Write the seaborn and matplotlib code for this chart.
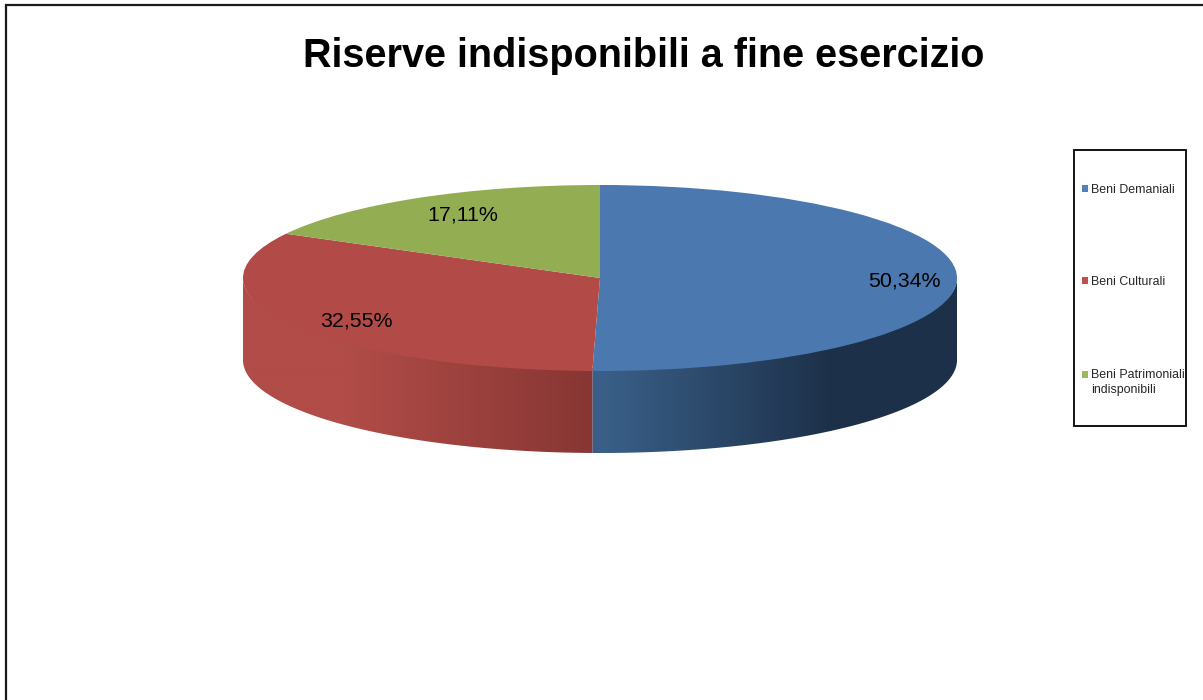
import numpy as np
import matplotlib
matplotlib.use("Agg")
import matplotlib.pyplot as plt
from matplotlib.patches import Patch, Rectangle, Polygon
from matplotlib.colors import to_rgb
import seaborn as sns

# data
categories = ["Beni Demaniali", "Beni Culturali", "Beni Patrimoniali\nindisponibili"]
values = [50.34, 32.55, 17.11]
title = "Riserve indisponibili a fine esercizio"

# style
top_colors = ["#4a78af", "#b24b47", "#93ad52"]
legend_colors = ["#4f81bd", "#c0504d", "#9bbb59"]
wall_outer = ["#1d3049", "#b14c48", "#93ad52"]
wall_inner = ["#3a6089", "#873633", "#93ad52"]
wall_hold = [0.35, 0.30, 0.0]   # share of the run kept at the outer colour

sns.set_theme(style="white")
plt.rcParams["font.family"] = ["Liberation Sans", "DejaVu Sans"]

W, H = 1203, 700
fig = plt.figure(figsize=(W / 100, H / 100), dpi=100, facecolor="white")

# pixel geometry of the pie
left, right, top, rim_bottom, depth = 243, 957, 185, 371, 82
ry = (rim_bottom - top) / 2
d = depth / ry
ax = fig.add_axes([left / W, 1 - (rim_bottom + depth) / H, (right - left) / W, (rim_bottom + depth - top) / H])
ax.patch.set_alpha(0)

# side wall, drawn from the values
shares = np.array(values) / sum(values)
edges = 90 - 360 * np.concatenate([[0], np.cumsum(shares)])
for i in range(len(values)):
    lo, hi = max(edges[i + 1], -180), min(edges[i], 0)
    if lo >= hi:
        continue
    ang = np.radians(np.linspace(hi, lo, 200))
    xs, ys = np.cos(ang), np.sin(ang)
    # the upper edge runs just inside the rim, so the top face covers it
    outline = np.column_stack([np.r_[xs, xs[::-1]], np.r_[ys * 0.97, ys[::-1] - d]])
    x_a, x_b = xs.min(), xs.max()
    grid = np.linspace(x_a, x_b, 400)
    f = np.abs(grid) - np.abs(grid).min()
    f = f / f.max()
    f = np.clip(f / (1 - wall_hold[i]), 0, 1)
    c_o, c_i = np.array(to_rgb(wall_outer[i])), np.array(to_rgb(wall_inner[i]))
    img = (c_i[None, :] + (c_o - c_i)[None, :] * f[:, None])[None, :, :]
    im = ax.imshow(img, extent=(x_a, x_b, -1 - d, 1), aspect="auto", zorder=1, interpolation="bilinear")
    clip = Polygon(outline, closed=True, transform=ax.transData, fc="none", ec="none")
    ax.add_patch(clip)
    im.set_clip_path(clip)

# top face
wedges, _, autotexts = ax.pie(
    values, colors=top_colors, startangle=90, counterclock=False, radius=1,
    autopct=lambda p: f"{p:.2f}%".replace(".", ","),
    wedgeprops={"linewidth": 0}, textprops={"fontsize": 15.4, "color": "black"},
)
for w in wedges:
    w.set_zorder(3)
label_pos = [(904, 281), (356, 321), (463, 215)]
for t, (px, py) in zip(autotexts, label_pos):
    t.set_position(((px - 600) / 357, (278 - py) / ry))
    t.set_zorder(5)
    t.set_ha("center")
    t.set_va("center")
ax.set_aspect("auto")
ax.set_xlim(-1, 1)
ax.set_ylim(-1 - d, 1)
ax.axis("off")

# title
fig.text(643.5 / W, 1 - 56 / H, title, ha="center", va="center",
         fontsize=28.55, fontweight="bold", color="black")

# legend box
fig.add_artist(Rectangle((1074 / W, 1 - 426 / H), 112 / W, 276 / H, transform=fig.transFigure,
                         fill=True, facecolor="white", edgecolor="black", linewidth=1.3, zorder=1))
handles = [Patch(facecolor=c, edgecolor="none") for c in legend_colors]
leg = fig.legend(
    handles, categories, loc="upper left",
    bbox_to_anchor=(1082 / W, 1 - 184 / H), bbox_transform=fig.transFigure,
    fontsize=8.9, frameon=False, handlelength=0.5, handleheight=0.5, handletextpad=0.22,
    labelspacing=6.5, borderpad=0, borderaxespad=0,
)
leg.set_zorder(2)
for txt in leg.get_texts():
    txt.set_linespacing(1.4)
leg.legend_handles[2].set_y(leg.legend_handles[2].get_y() + 5.8)

# outer frame (top and left edges visible)
fig.add_artist(Rectangle((6 / W, -0.1), 1.2, 1.1 - 5.5 / H, transform=fig.transFigure,
                         fill=False, edgecolor="#1a1a1a", linewidth=1.6, zorder=0))

fig.savefig("out.png", dpi=100, facecolor="white")
